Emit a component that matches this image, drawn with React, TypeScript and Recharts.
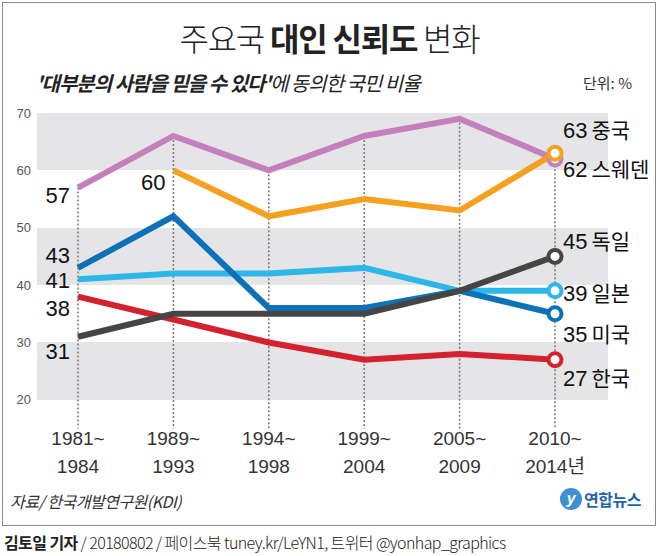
import React from "react"
import {
    LineChart,
    Line,
    XAxis,
    YAxis,
    CartesianGrid,
    ReferenceLine,
} from "recharts"

// 조사 기간
const periodStart = ["1981~", "1989~", "1994~", "1999~", "2005~", "2010~"]
const periodEnd = ["1984", "1993", "1998", "2004", "2009", "2014년"]

// '대부분의 사람을 믿을 수 있다'에 동의한 비율 (%)
const sweden = [57, 66, 60, 66, 69, 62]
const china = [null, 60, 52, 55, 53, 63]
const japan = [41, 42, 42, 43, 39, 39]
const usa = [43, 52, 36, 36, 39, 35]
const korea = [38, 34, 30, 27, 28, 27]
const germany = [31, 35, 35, 35, 39, 45]

const yTicks = [20, 30, 40, 50, 60, 70]

const data = periodStart.map((p, i) => ({
    period: p,
    sweden: sweden[i],
    china: china[i],
    japan: japan[i],
    usa: usa[i],
    korea: korea[i],
    germany: germany[i],
}))

const columnMax = periodStart.map((_, i) =>
    Math.max(...[sweden, china, japan, usa, korea, germany].map((s) => s[i] ?? 0))
)

const series = [
    { key: "sweden", name: "스웨덴", color: "#c47fbd", first: 0, leftDy: 7, rightDy: 10 },
    { key: "china", name: "중국", color: "#f5a01e", first: 1, leftDy: 12, rightDy: -23 },
    { key: "japan", name: "일본", color: "#2cb7e8", first: 0, leftDy: 1, rightDy: 2 },
    { key: "usa", name: "미국", color: "#0d71b8", first: 0, leftDy: -13, rightDy: 20 },
    { key: "korea", name: "한국", color: "#d3212e", first: 0, leftDy: 11, rightDy: 18 },
    { key: "germany", name: "독일", color: "#454545", first: 0, leftDy: 14, rightDy: -15 },
]

const last = periodStart.length - 1
const numFont = "'Liberation Sans', Arial, sans-serif"
const krFont = "'Noto Sans CJK KR', 'Noto Sans', sans-serif"

function XTick({ x, y, index }: any) {
    return (
        <text x={x} y={y} textAnchor="middle" fontFamily={numFont} fontSize={19} fill="#333">
            <tspan x={x} dy={16}>{periodStart[index]}</tspan>
            <tspan x={x} dy={28} fontFamily={`'Liberation Sans', ${krFont}`}>
                {periodEnd[index]}
            </tspan>
        </text>
    )
}

export default function App() {
    return (
        <div
            style={{
                position: "absolute",
                left: 0,
                top: 0,
                width: 659,
                height: 556,
                background: "#fff",
                fontFamily: krFont,
            }}
        >
            <div
                style={{
                    position: "absolute",
                    left: 2,
                    top: 2,
                    width: 652,
                    height: 522,
                    border: "1.5px solid #8a8a8a",
                }}
            />
            <div
                style={{
                    position: "absolute",
                    left: 0,
                    width: 659,
                    top: 14,
                    textAlign: "center",
                    fontSize: 32,
                    color: "#222",
                    letterSpacing: -1.2,
                }}
            >
                <span style={{ fontWeight: 300 }}>주요국 </span>
                <span style={{ fontWeight: 700 }}>대인 신뢰도</span>
                <span style={{ fontWeight: 300 }}> 변화</span>
            </div>
            <div
                style={{
                    position: "absolute",
                    left: 36,
                    top: 68,
                    fontSize: 20,
                    fontStyle: "italic",
                    color: "#222",
                    letterSpacing: -1,
                }}
            >
                <span style={{ fontWeight: 700 }}>'대부분의 사람을 믿을 수 있다'</span>
                <span>에 동의한 국민 비율</span>
            </div>
            <div
                style={{
                    position: "absolute",
                    left: 583,
                    top: 72,
                    fontSize: 15,
                    color: "#333",
                }}
            >
                단위: %
            </div>

            <div style={{ position: "absolute", left: 0, top: 0 }}>
                <LineChart
                    width={659}
                    height={556}
                    data={data}
                    margin={{ top: 113, right: 51, left: 5, bottom: 67.5 }}
                >
                    {/* 회색 띠: 70-60, 50-40, 30-20 */}
                    <CartesianGrid
                        vertical={false}
                        stroke="none"
                        horizontalFill={["#e5e5e7", "transparent"]}
                        fillOpacity={1}
                    />
                    {periodStart.map((p, i) => (
                        <ReferenceLine
                            key={p}
                            segment={[
                                { x: p, y: columnMax[i] },
                                { x: p, y: 15 },
                            ]}
                            stroke="#777"
                            strokeWidth={1.5}
                            strokeDasharray="2 2"
                        />
                    ))}
                    <XAxis
                        dataKey="period"
                        height={60}
                        axisLine={false}
                        tickLine={false}
                        tickSize={0}
                        tickMargin={0}
                        padding={{ left: 41, right: 53 }}
                        tick={<XTick />}
                        interval={0}
                    />
                    <YAxis
                        domain={[15, 70]}
                        ticks={yTicks}
                        width={32}
                        axisLine={false}
                        tickLine={false}
                        tickSize={0}
                        tickMargin={6}
                        tick={{ fontSize: 13, fill: "#555", fontFamily: numFont }}
                    />
                    {series.map((s) => (
                        <Line
                            key={s.key}
                            dataKey={s.key}
                            stroke={s.color}
                            strokeWidth={6}
                            isAnimationActive={false}
                            dot={(p: any) =>
                                p.index === last ? (
                                    <circle
                                        key={`d-${s.key}`}
                                        cx={p.cx}
                                        cy={p.cy}
                                        r={6.5}
                                        fill="#fff"
                                        stroke={s.color}
                                        strokeWidth={4}
                                    />
                                ) : (
                                    <g key={`d-${s.key}-${p.index}`} />
                                )
                            }
                            activeDot={false}
                            label={(p: any) => {
                                if (p.index === s.first) {
                                    return (
                                        <text
                                            key={`l-${s.key}`}
                                            x={p.x - 8}
                                            y={p.y + s.leftDy}
                                            dy={8}
                                            textAnchor="end"
                                            fontFamily={numFont}
                                            fontSize={22}
                                            fill="#111"
                                        >
                                            {p.value}
                                        </text>
                                    )
                                }
                                if (p.index === last) {
                                    return (
                                        <text
                                            key={`r-${s.key}`}
                                            x={p.x + 8}
                                            y={p.y + s.rightDy}
                                            dy={8}
                                            textAnchor="start"
                                            fontSize={22}
                                            fill="#111"
                                        >
                                            <tspan fontFamily={numFont}>{p.value}</tspan>
                                            <tspan fontFamily={krFont} dx={4} fontSize={21}>
                                                {s.name}
                                            </tspan>
                                        </text>
                                    )
                                }
                                return <g key={`n-${s.key}-${p.index}`} />
                            }}
                        />
                    ))}
                </LineChart>
            </div>

            <div
                style={{
                    position: "absolute",
                    left: 10,
                    top: 489,
                    fontSize: 16,
                    fontStyle: "italic",
                    color: "#333",
                    letterSpacing: -0.5,
                }}
            >
                자료/ 한국개발연구원(KDI)
            </div>
            <div
                style={{
                    position: "absolute",
                    left: 560,
                    top: 487,
                    display: "flex",
                    alignItems: "center",
                    color: "#1f64ad",
                    fontWeight: 700,
                    fontSize: 16,
                    letterSpacing: -0.5,
                }}
            >
                <span
                    style={{
                        display: "inline-block",
                        width: 22,
                        height: 22,
                        borderRadius: 11,
                        background: "#3d8fd6",
                        color: "#fff",
                        fontStyle: "italic",
                        fontSize: 16,
                        textAlign: "center",
                        lineHeight: "22px",
                        marginRight: 2,
                        fontFamily: numFont,
                    }}
                >
                    y
                </span>
                연합뉴스
            </div>
            <div
                style={{
                    position: "absolute",
                    left: 4,
                    top: 530,
                    fontSize: 16,
                    color: "#222",
                    letterSpacing: -0.6,
                    whiteSpace: "nowrap",
                }}
            >
                <span style={{ fontWeight: 700 }}>김토일 기자</span>
                <span style={{ fontWeight: 300 }}>
                    {" "}/ 20180802 / 페이스북 tuney.kr/LeYN1, 트위터 @yonhap_graphics
                </span>
            </div>
        </div>
    )
}
